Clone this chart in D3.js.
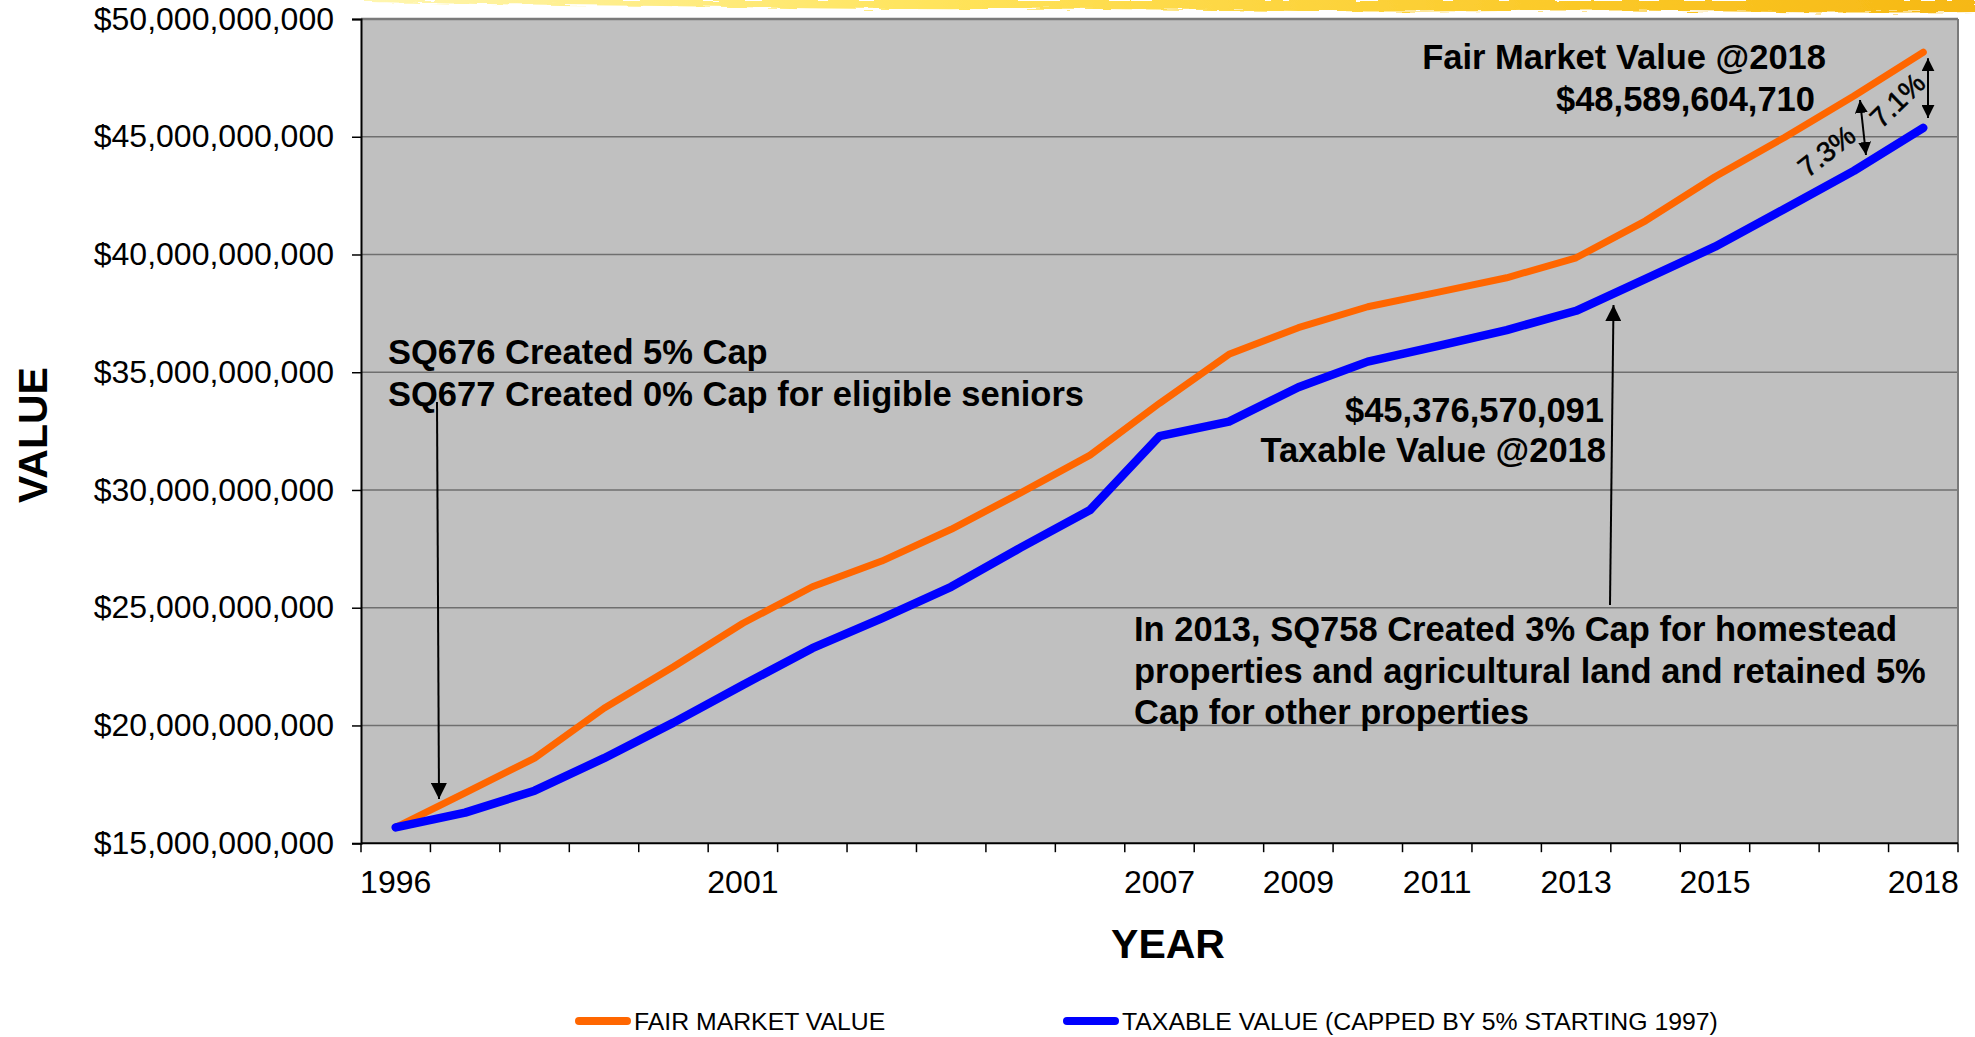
<!DOCTYPE html>
<html>
<head>
<meta charset="utf-8">
<script src="https://cdn.jsdelivr.net/npm/d3@7"></script>
<style>
  html, body { margin: 0; padding: 0; background: #ffffff; }
  svg { display: block; }
  text { font-family: "Liberation Sans", Arial, Helvetica, sans-serif; }
</style>
</head>
<body>
<svg id="chart" width="1975" height="1037"></svg>
<script>
// Assessed values by year (billions of dollars)
const years = [1996, 1997, 1998, 1999, 2000, 2001, 2002, 2003, 2004, 2005, 2006, 2007,
               2008, 2009, 2010, 2011, 2012, 2013, 2014, 2015, 2016, 2017, 2018];
const fairMarketValue = [15.67, 17.14, 18.61, 20.73, 22.49, 24.34, 25.89, 26.98, 28.33, 29.88,
                         31.48, 33.68, 35.76, 36.89, 37.78, 38.39, 39.01, 39.86, 41.43, 43.30,
                         44.97, 46.73, 48.589604710];
const taxableValue = [15.67, 16.30, 17.23, 18.61, 20.12, 21.72, 23.28, 24.55, 25.89, 27.55,
                      29.15, 32.29, 32.90, 34.36, 35.45, 36.11, 36.79, 37.61, 38.96, 40.33,
                      41.93, 43.55, 45.376570091];
const yearLabels = ["1996", "", "", "", "", "2001", "", "", "", "", "", "2007",
                    "", "2009", "", "2011", "", "2013", "", "2015", "", "", "2018"];
const valueTicks = [15, 20, 25, 30, 35, 40, 45, 50];
const seriesNames = ["FAIR MARKET VALUE", "TAXABLE VALUE (CAPPED BY 5% STARTING 1997)"];

const svg = d3.select("#chart");
const plot = { left: 361, right: 1958, top: 19, bottom: 843.2 };

const x = d3.scaleBand().domain(years).range([plot.left, plot.right]).paddingInner(0).paddingOuter(0);
const y = d3.scaleLinear().domain([15, 50]).range([plot.bottom, plot.top]);
const cx = yr => x(yr) + x.bandwidth() / 2;

// Brush-stroke banner along the top edge
const defs = svg.append("defs");
const grad = defs.append("linearGradient").attr("id", "brush").attr("x1", "0").attr("x2", "1");
grad.append("stop").attr("offset", "0").attr("stop-color", "#fff6b0");
grad.append("stop").attr("offset", "0.35").attr("stop-color", "#ffe45c");
grad.append("stop").attr("offset", "0.75").attr("stop-color", "#fbc928");
grad.append("stop").attr("offset", "1").attr("stop-color", "#f6b814");
const rough = defs.append("filter").attr("id", "rough").attr("x", "-5%").attr("y", "-50%").attr("width", "110%").attr("height", "200%");
rough.append("feTurbulence").attr("type", "fractalNoise").attr("baseFrequency", "0.04 0.5").attr("numOctaves", 2).attr("seed", 3).attr("result", "n");
rough.append("feDisplacementMap").attr("in", "SourceGraphic").attr("in2", "n").attr("scale", 6);
svg.append("path")
  .attr("d", "M365,0 L1975,0 L1975,12 C1800,14 1650,9 1500,11 C1300,13 1150,8 1000,9 C850,10 700,6 560,5 C470,4 410,3 365,2 Z")
  .attr("fill", "url(#brush)")
  .attr("filter", "url(#rough)");

// Plot area
svg.append("rect")
  .attr("x", plot.left).attr("y", plot.top)
  .attr("width", plot.right - plot.left).attr("height", plot.bottom - plot.top)
  .attr("fill", "#c0c0c0");

// Horizontal gridlines
svg.append("g").selectAll("line")
  .data(valueTicks.filter(v => v > 15 && v < 50))
  .join("line")
  .attr("x1", plot.left).attr("x2", plot.right)
  .attr("y1", d => y(d)).attr("y2", d => y(d))
  .attr("stroke", "#6f6f6f").attr("stroke-width", 1.5);

// Frame: top and right in gray, axes in black
svg.append("line").attr("x1", plot.left).attr("x2", plot.right).attr("y1", plot.top).attr("y2", plot.top)
  .attr("stroke", "#7a7a7a").attr("stroke-width", 2.5);
svg.append("line").attr("x1", plot.right).attr("x2", plot.right).attr("y1", plot.top).attr("y2", plot.bottom)
  .attr("stroke", "#7a7a7a").attr("stroke-width", 2);

// Y axis
const yAxis = d3.axisLeft(y).tickValues(valueTicks).tickSize(9).tickPadding(18)
  .tickFormat(d => d3.format("$,")(d * 1e9));
const gy = svg.append("g").attr("transform", `translate(${plot.left},0)`).call(yAxis);
gy.select(".domain").attr("stroke", "#000").attr("stroke-width", 2);
gy.selectAll(".tick line").attr("stroke", "#000").attr("stroke-width", 1.5);
gy.selectAll(".tick text").attr("font-size", 32).attr("fill", "#000")
  .attr("font-family", "'Liberation Sans', Arial, sans-serif");

// X axis: ticks at category boundaries, labels at category centers
const gx = svg.append("g");
gx.append("line").attr("x1", plot.left).attr("x2", plot.right).attr("y1", plot.bottom).attr("y2", plot.bottom)
  .attr("stroke", "#000").attr("stroke-width", 2);
gx.selectAll("line.tick")
  .data(years.map(yr => x(yr)).concat([x(years[years.length - 1]) + x.bandwidth()]))
  .join("line").attr("class", "tick")
  .attr("x1", d => d).attr("x2", d => d)
  .attr("y1", plot.bottom).attr("y2", plot.bottom + 9)
  .attr("stroke", "#000").attr("stroke-width", 1.5);
gx.selectAll("text")
  .data(years.map((yr, i) => ({ yr, label: yearLabels[i] })).filter(d => d.label))
  .join("text")
  .attr("x", d => cx(d.yr)).attr("y", 893)
  .attr("text-anchor", "middle").attr("font-size", 32).attr("fill", "#000")
  .text(d => d.label);

// Axis titles
svg.append("text").attr("x", 1168).attr("y", 958).attr("text-anchor", "middle")
  .attr("font-size", 41).attr("font-weight", "bold").text("YEAR");
svg.append("text").attr("transform", "translate(47,435) rotate(-90)").attr("text-anchor", "middle")
  .attr("font-size", 41).attr("font-weight", "bold").text("VALUE");

// Series lines
const line = d3.line().x(d => cx(d.yr)).y(d => y(d.v));
const series = [
  { name: seriesNames[0], color: "#ff6600", width: 7, values: fairMarketValue },
  { name: seriesNames[1], color: "#0000ff", width: 8.5, values: taxableValue }
];
svg.append("g").selectAll("path")
  .data(series)
  .join("path")
  .attr("d", s => line(years.map((yr, i) => ({ yr, v: s.values[i] }))))
  .attr("fill", "none")
  .attr("stroke", s => s.color).attr("stroke-width", s => s.width)
  .attr("stroke-linejoin", "round").attr("stroke-linecap", "round");

// Arrow markers
defs.append("marker").attr("id", "head").attr("viewBox", "0 0 10 10")
  .attr("refX", 10).attr("refY", 5).attr("markerWidth", 16).attr("markerHeight", 16)
  .attr("markerUnits", "userSpaceOnUse").attr("orient", "auto-start-reverse")
  .append("path").attr("d", "M0,0 L10,5 L0,10 Z").attr("fill", "#000");
defs.append("marker").attr("id", "headSmall").attr("viewBox", "0 0 10 10")
  .attr("refX", 10).attr("refY", 5).attr("markerWidth", 13).attr("markerHeight", 13)
  .attr("markerUnits", "userSpaceOnUse").attr("orient", "auto-start-reverse")
  .append("path").attr("d", "M0,0 L10,5 L0,10 Z").attr("fill", "#000");

const notes = svg.append("g").attr("font-weight", "bold").attr("font-size", 34.5).attr("fill", "#000");

// 1996: caps created
notes.append("text").attr("x", 388).attr("y", 364).text("SQ676 Created 5% Cap");
notes.append("text").attr("x", 388).attr("y", 406).text("SQ677 Created 0% Cap for eligible seniors");
svg.append("line").attr("x1", 437).attr("y1", 402).attr("x2", 439).attr("y2", 799)
  .attr("stroke", "#000").attr("stroke-width", 2).attr("marker-end", "url(#head)");

// 2018 fair market value
notes.append("text").attr("x", 1826).attr("y", 69).attr("text-anchor", "end").text("Fair Market Value @2018");
notes.append("text").attr("x", 1815).attr("y", 111).attr("text-anchor", "end")
  .text(d3.format("$,")(Math.round(fairMarketValue[fairMarketValue.length - 1] * 1e9)));

// 2018 taxable value
notes.append("text").attr("x", 1604).attr("y", 422).attr("text-anchor", "end")
  .text(d3.format("$,")(Math.round(taxableValue[taxableValue.length - 1] * 1e9)));
notes.append("text").attr("x", 1606).attr("y", 462).attr("text-anchor", "end").text("Taxable Value @2018");
svg.append("line").attr("x1", 1610).attr("y1", 605).attr("x2", 1613.5).attr("y2", 305)
  .attr("stroke", "#000").attr("stroke-width", 2).attr("marker-end", "url(#head)");

// 2013 cap change
notes.append("text").attr("x", 1134).attr("y", 641).text("In 2013, SQ758 Created 3% Cap for homestead");
notes.append("text").attr("x", 1134).attr("y", 683).text("properties and agricultural land and retained 5%");
notes.append("text").attr("x", 1134).attr("y", 724).text("Cap for other properties");

// Gap between the two series in 2017 and 2018
const gapPct = i => ((fairMarketValue[i] / taxableValue[i] - 1) * 100).toFixed(1) + "%";
const n = years.length;
svg.append("line").attr("x1", 1928).attr("x2", 1928)
  .attr("y1", y(fairMarketValue[n - 1]) + 6).attr("y2", y(taxableValue[n - 1]) - 10)
  .attr("stroke", "#000").attr("stroke-width", 2)
  .attr("marker-start", "url(#headSmall)").attr("marker-end", "url(#headSmall)");
svg.append("line").attr("x1", 1860).attr("x2", 1866).attr("y1", 100).attr("y2", 155)
  .attr("stroke", "#000").attr("stroke-width", 2)
  .attr("marker-start", "url(#headSmall)").attr("marker-end", "url(#headSmall)");
const pct = svg.append("g").attr("font-size", 28).attr("fill", "#000")
  .attr("stroke", "#000").attr("stroke-width", 0.6);
pct.append("text").attr("transform", "translate(1899,102) rotate(-44)")
  .attr("text-anchor", "middle").attr("dominant-baseline", "middle")
  .text(gapPct(n - 1));
pct.append("text").attr("transform", "translate(1828,153) rotate(-38)")
  .attr("text-anchor", "middle").attr("dominant-baseline", "middle")
  .text(gapPct(n - 2));

// Legend
const legend = svg.append("g");
const legendItems = [
  { color: series[0].color, x: 576, label: seriesNames[0] },
  { color: series[1].color, x: 1064, label: seriesNames[1] }
];
legend.selectAll("line").data(legendItems).join("line")
  .attr("x1", d => d.x + 3).attr("x2", d => d.x + 51).attr("y1", 1021).attr("y2", 1021)
  .attr("stroke", d => d.color).attr("stroke-width", 8).attr("stroke-linecap", "round");
legend.selectAll("text").data(legendItems).join("text")
  .attr("x", d => d.x + 58).attr("y", 1030).attr("font-size", 24.8).attr("fill", "#000")
  .text(d => d.label);
</script>
</body>
</html>
